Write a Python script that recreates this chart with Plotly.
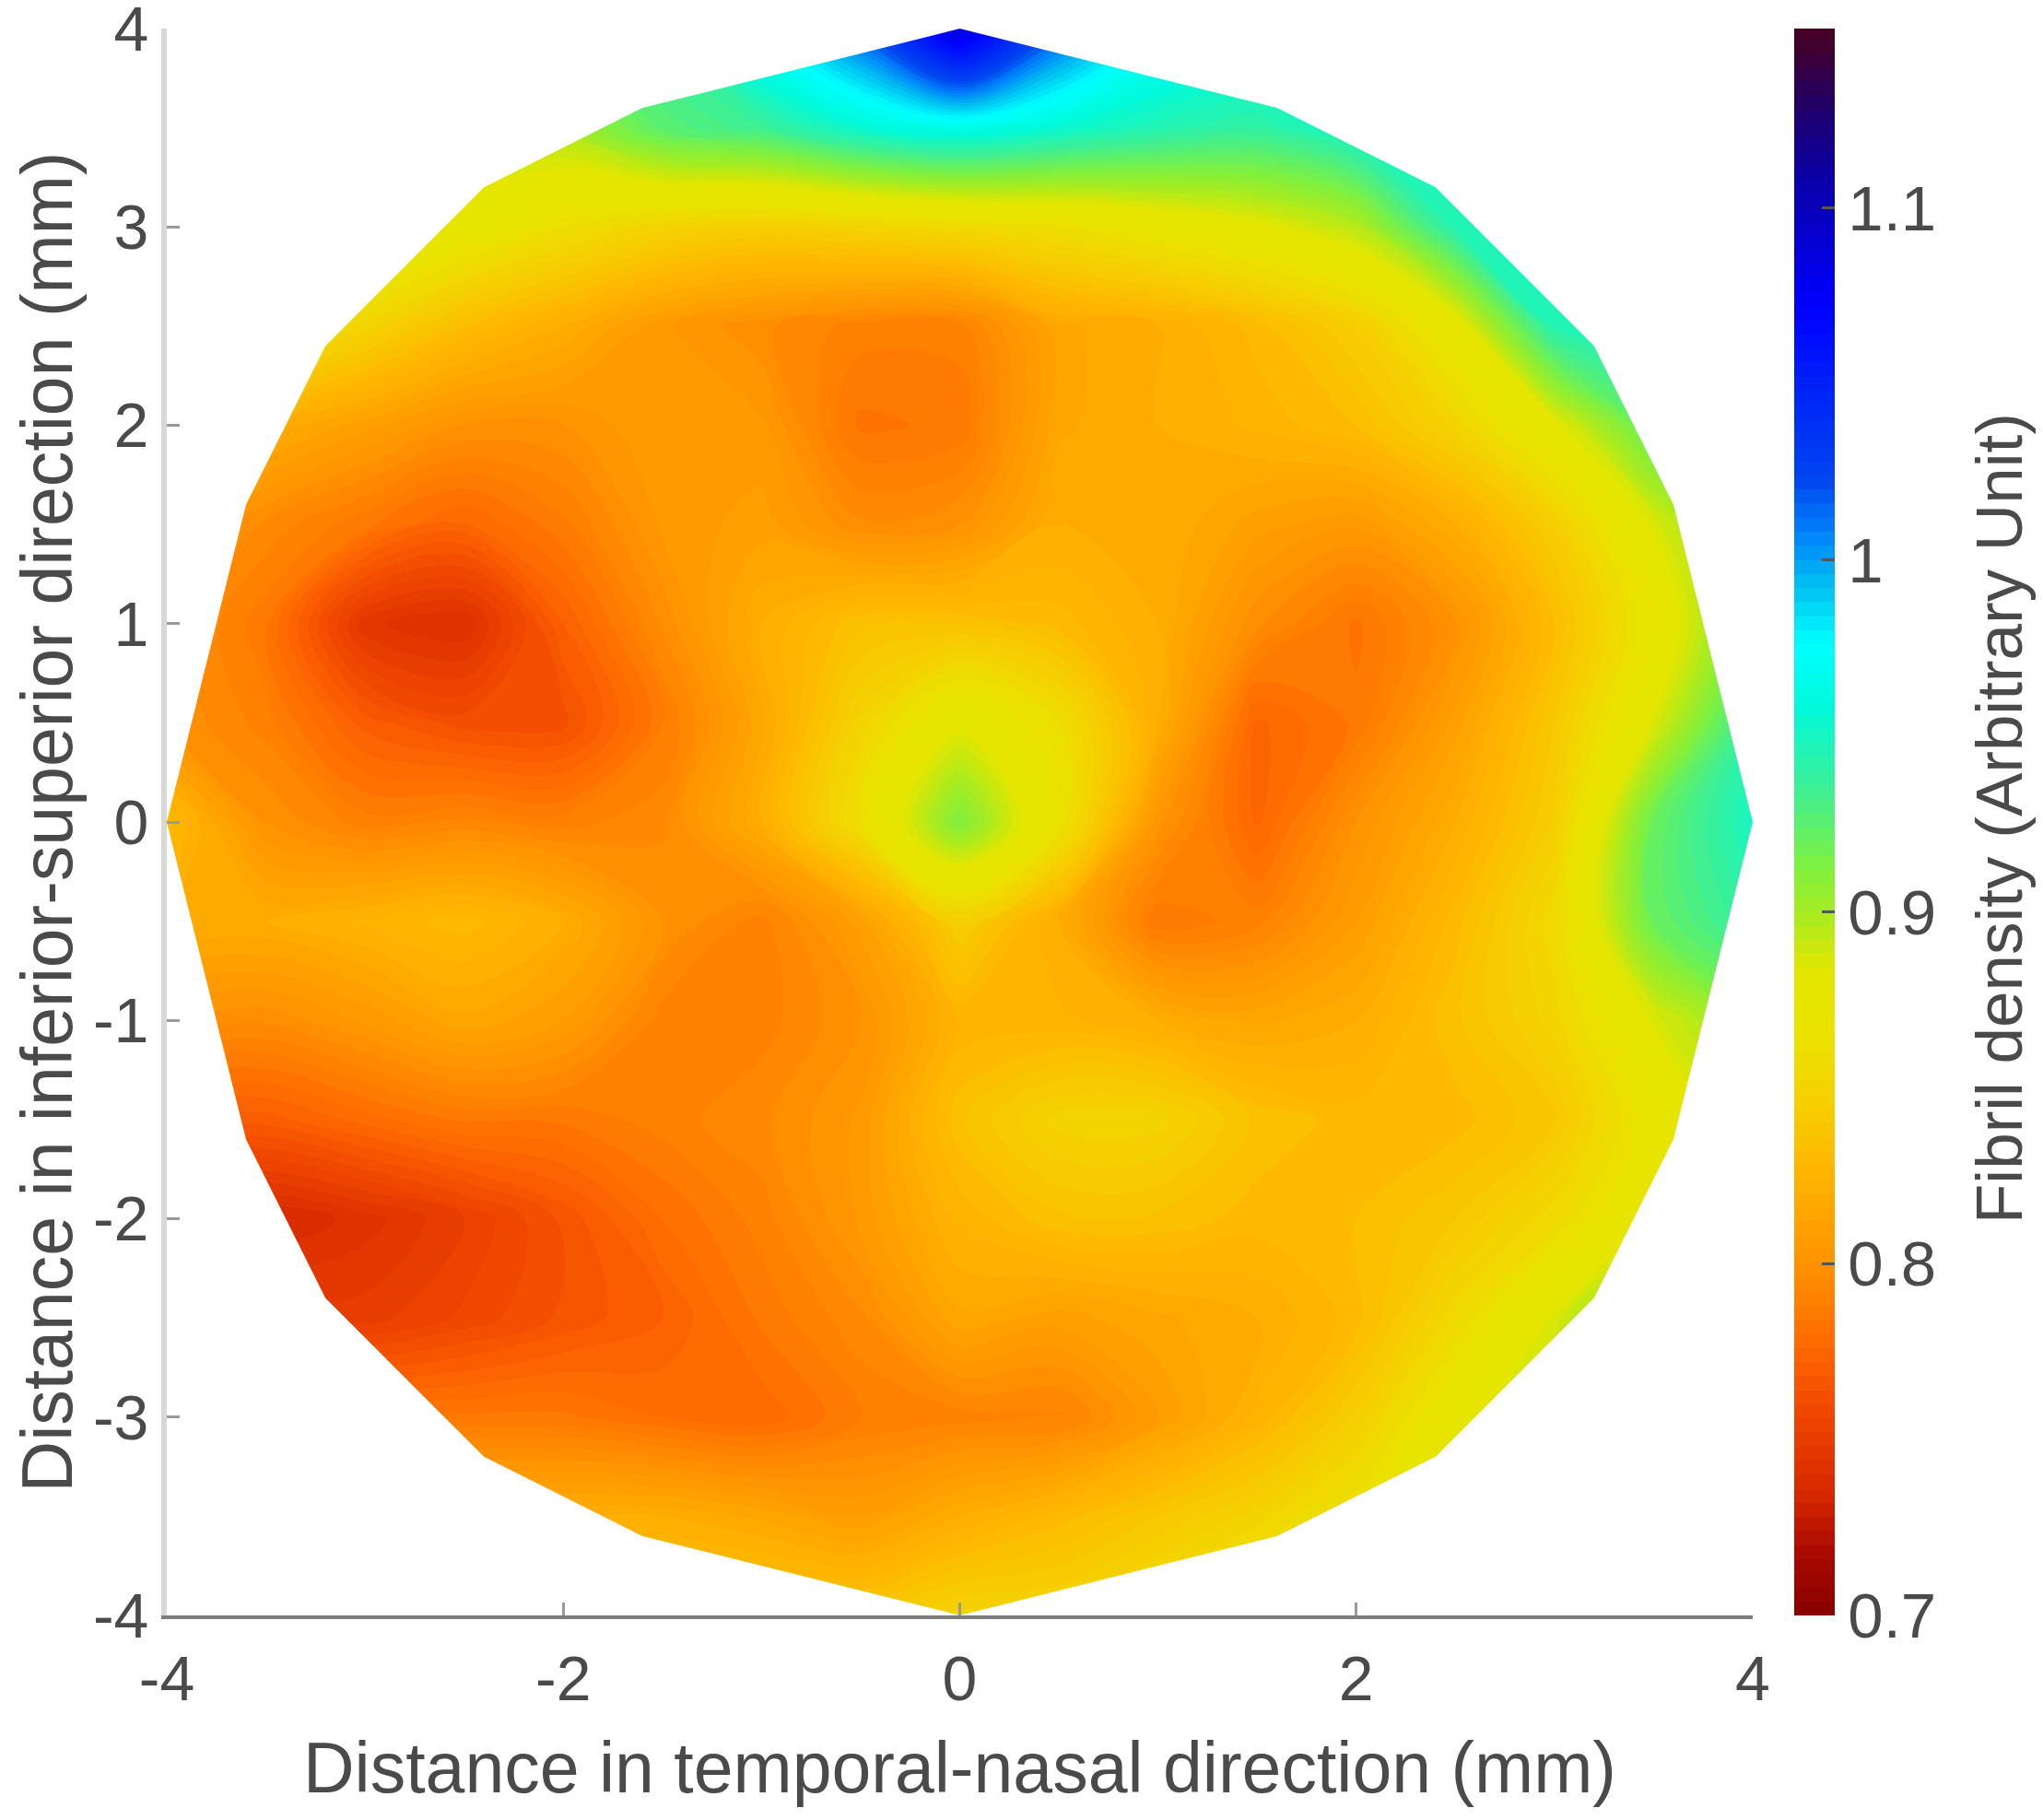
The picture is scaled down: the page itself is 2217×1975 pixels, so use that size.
import plotly.graph_objects as go

# Grid of fibril density, rows from y=4 down to y=-4
x_mm = [-4, -3.5, -3, -2.5, -2, -1.5, -1, -0.5, 0, 0.5, 1, 1.5, 2, 2.5, 3, 3.5, 4]
y_mm = [4, 3.5, 3, 2.5, 2, 1.5, 1, 0.5, 0, -0.5, -1, -1.5, -2, -2.5, -3, -3.5, -4]
density = [
    [.90, .90, .90, .90, .92, .94, .98, 1.02, 1.09, 1.02, .98, .97, .97, .97, .97, .97, .97],
    [.90, .90, .90, .90, .90, .925, .935, .955, .965, .955, .945, .94, .955, .96, .96, .96, .96],
    [.89, .89, .89, .875, .86, .85, .845, .85, .855, .86, .87, .88, .895, .945, .96, .96, .96],
    [.87, .87, .85, .832, .82, .805, .797, .79, .79, .815, .82, .83, .845, .875, .945, .95, .95],
    [.84, .82, .81, .80, .80, .808, .805, .783, .785, .815, .82, .825, .832, .85, .88, .925, .94],
    [.81, .795, .785, .775, .787, .805, .81, .797, .80, .82, .82, .81, .805, .82, .845, .885, .92],
    [.80, .785, .745, .74, .772, .797, .82, .835, .835, .83, .82, .797, .783, .80, .832, .87, .92],
    [.80, .79, .77, .762, .762, .787, .815, .85, .88, .86, .82, .775, .785, .81, .84, .885, .94],
    [.83, .80, .79, .793, .79, .795, .82, .86, .913, .865, .802, .775, .80, .82, .845, .92, .95],
    [.82, .82, .825, .83, .82, .80, .79, .81, .845, .82, .785, .79, .808, .83, .855, .92, .94],
    [.80, .797, .805, .815, .808, .79, .79, .80, .825, .825, .82, .815, .82, .835, .85, .885, .91],
    [.77, .77, .778, .785, .785, .79, .795, .805, .835, .85, .85, .835, .83, .83, .84, .87, .90],
    [.735, .735, .742, .752, .765, .78, .79, .805, .825, .835, .835, .83, .832, .84, .855, .88, .90],
    [.75, .75, .75, .757, .765, .772, .785, .795, .815, .81, .815, .82, .83, .855, .885, .93, .93],
    [.785, .785, .785, .785, .785, .78, .777, .788, .79, .79, .808, .825, .845, .875, .90, .90, .90],
    [.82, .82, .82, .82, .82, .82, .815, .808, .82, .83, .84, .85, .865, .885, .90, .90, .90],
    [.84, .84, .84, .84, .84, .84, .84, .84, .85, .85, .86, .87, .88, .89, .90, .90, .90],
]

# Outline of the sampled disc, clockwise from the top
outline_x = [0, 1.6, 2.4, 3.2, 3.6, 4, 3.6, 3.2, 2.4, 1.6, 0, -1.6, -2.4, -3.2, -3.6, -4, -3.6, -3.2, -2.4, -1.6, 0]
outline_y = [4, 3.6, 3.2, 2.4, 1.6, 0, -1.6, -2.4, -3.2, -3.6, -4, -3.6, -3.2, -2.4, -1.6, 0, 1.6, 2.4, 3.2, 3.6, 4]

x_ticks = [-4, -2, 0, 2, 4]
y_ticks = [-4, -3, -2, -1, 0, 1, 2, 3, 4]
bar_ticks = [0.7, 0.8, 0.9, 1, 1.1]

z_min, z_max = 0.7, 1.151
# Colours as sampled from the colour bar
colour_stops = [
    (0.70, "rgb(135,0,0)"),
    (0.718, "rgb(170,10,0)"),
    (0.735, "rgb(215,40,0)"),
    (0.757, "rgb(240,70,0)"),
    (0.78, "rgb(255,110,0)"),
    (0.80, "rgb(255,145,0)"),
    (0.826, "rgb(255,180,0)"),
    (0.849, "rgb(245,210,0)"),
    (0.864, "rgb(235,225,0)"),
    (0.884, "rgb(228,230,0)"),
    (0.90, "rgb(170,235,30)"),
    (0.913, "rgb(130,240,60)"),
    (0.937, "rgb(60,240,150)"),
    (0.96, "rgb(0,250,220)"),
    (0.978, "rgb(0,255,255)"),
    (0.995, "rgb(0,190,240)"),
    (1.007, "rgb(0,140,250)"),
    (1.025, "rgb(0,70,240)"),
    (1.075, "rgb(0,0,255)"),
    (1.11, "rgb(10,0,170)"),
    (1.13, "rgb(30,0,110)"),
    (1.151, "rgb(70,0,40)"),
]
colorscale = [[(v - z_min) / (z_max - z_min), c] for v, c in colour_stops]

TEXT = "#4a4a4a"
FONT = "Liberation Sans"

fig = go.Figure()
fig.add_trace(go.Contour(
    x=x_mm, y=y_mm, z=density,
    zmin=z_min, zmax=z_max, colorscale=colorscale,
    autocontour=False,
    contours=dict(start=z_min, end=z_max, size=0.004, coloring="fill", showlines=False),
    line=dict(width=0, smoothing=1.0),
    colorbar=dict(
        x=(1947 - 181) / 1721, xanchor="left", xpad=0,
        y=0, yanchor="bottom", ypad=0,
        len=1, lenmode="fraction",
        thickness=44, thicknessmode="pixels",
        outlinewidth=0, ticks="inside", ticklen=14, tickwidth=3, tickcolor="#555555",
        tickvals=bar_ticks, ticktext=[str(t) for t in bar_ticks],
        tickfont=dict(family=FONT, size=69, color=TEXT),
        ticklabeloverflow="allow",
    ),
))

# White mask: plot rectangle with the disc cut out through a zero-width slit
mask_x = [-4, -4, 4, 4, 0] + outline_x + [0, -4]
mask_y = [4, -4, -4, 4, 4] + outline_y + [4, 4]
fig.add_trace(go.Scatter(
    x=mask_x, y=mask_y, mode="lines", fill="toself", fillcolor="white",
    line=dict(width=0), hoverinfo="skip", showlegend=False,
))

fig.add_annotation(
    text="Fibril density (Arbitrary Unit)", textangle=-90, showarrow=False,
    xref="paper", yref="paper", x=(2169 - 181) / 1721, y=0.5, xanchor="center", yanchor="middle",
    yshift=4, font=dict(family=FONT, size=71, color=TEXT),
)

fig.update_xaxes(
    range=[-4, 4], tickvals=x_ticks, ticktext=[str(t) for t in x_ticks],
    ticks="inside", ticklen=14, tickwidth=3, automargin=False, ticklabelstandoff=6,
    ticklabeloverflow="allow",
    tickcolor="#9a9a9a", showline=True, linecolor="#7d7d7d", linewidth=4, showgrid=False,
    zeroline=False, tickfont=dict(family=FONT, size=68, color=TEXT),
    title=dict(text="Distance in temporal-nasal direction (mm)", standoff=34,
               font=dict(family=FONT, size=77, color=TEXT)),
)
fig.update_yaxes(
    range=[-4, 4], tickvals=y_ticks, ticktext=[str(t) for t in y_ticks],
    ticks="inside", ticklen=14, tickwidth=3, automargin=False,
    ticklabeloverflow="allow",
    tickcolor="#9a9a9a", showline=True, linecolor="#d8d8d8", linewidth=6, showgrid=False,
    zeroline=False, tickfont=dict(family=FONT, size=68, color=TEXT),
    title=dict(text="Distance in inferior-superior direction (mm)", standoff=32,
               font=dict(family=FONT, size=77, color=TEXT)),
)
fig.update_layout(
    width=2209, height=1967, autosize=False,
    margin=dict(l=173, r=315, t=23, b=222, pad=0),
    paper_bgcolor="white", plot_bgcolor="white", showlegend=False,
)

fig.write_html("out.html")
